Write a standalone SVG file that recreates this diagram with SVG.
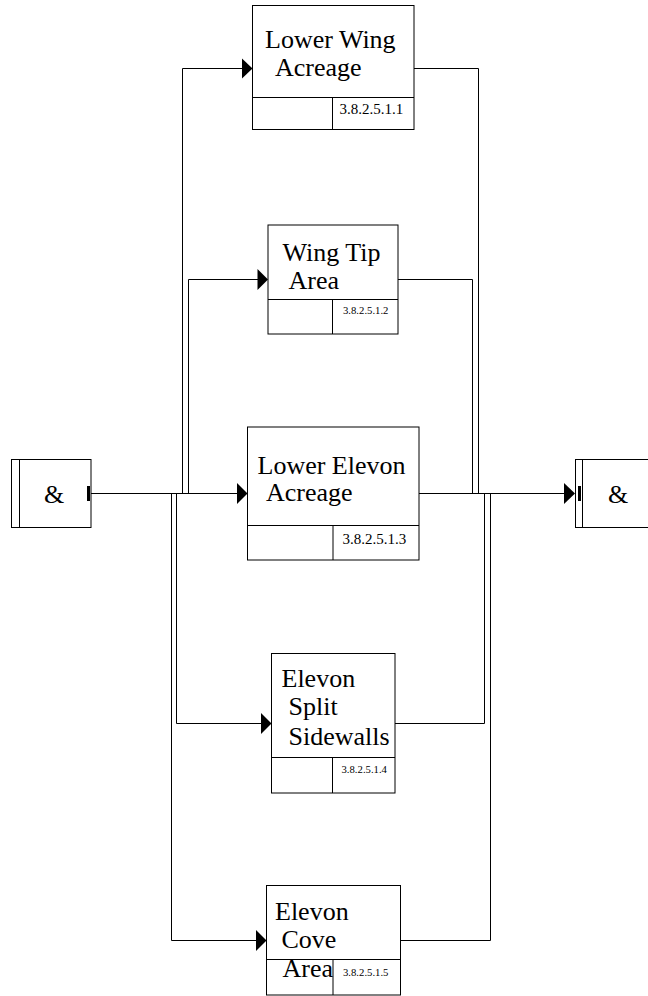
<svg xmlns="http://www.w3.org/2000/svg" width="648" height="996" viewBox="0 0 648 996">
<style>
.box{fill:#fff;stroke:#000;stroke-width:1}
.ln{fill:none;stroke:#000;stroke-width:1}
.t{font-family:"Liberation Serif","Times New Roman",serif;font-size:26px;fill:#000}
.n{font-family:"Liberation Serif","Times New Roman",serif;font-size:15px;fill:#000}
.s{font-family:"Liberation Serif","Times New Roman",serif;font-size:10.7px;fill:#000}
.ah{fill:#000;stroke:none}
</style>
<rect width="648" height="996" fill="#fff"/>
<g id="connectors">
<!-- main line -->
<path class="ln" d="M91 493.5H238"/>
<path class="ln" d="M419 493.5H565"/>
<!-- left branches -->
<path class="ln" d="M182.5 493.5V68.5H243"/>
<path class="ln" d="M188.5 493.5V279.5H258"/>
<path class="ln" d="M176.5 493.5V723.5H262"/>
<path class="ln" d="M171.5 493.5V940.5H257"/>
<!-- right branches -->
<path class="ln" d="M414 68.5H478.5V493.5"/>
<path class="ln" d="M398 279.5H472.5V493.5"/>
<path class="ln" d="M395 723.5H484.5V493.5"/>
<path class="ln" d="M400.5 940.5H490.5V493.5"/>
<!-- arrowheads -->
<polygon class="ah" points="242,58.5 252.5,68.5 242,78.5"/>
<polygon class="ah" points="257.5,269 268,279.5 257.5,290"/>
<polygon class="ah" points="237,483 247.5,493.5 237,504"/>
<polygon class="ah" points="261,713 271.5,723.5 261,734"/>
<polygon class="ah" points="256,930 266.5,940.5 256,951"/>
<polygon class="ah" points="564,483 575,493.5 564,504"/>
</g>
<g id="and-left">
<rect class="box" x="11.5" y="459.5" width="79.5" height="68"/>
<path class="ln" d="M19.5 459.5V527.5"/>
<rect x="87" y="486" width="3" height="15" fill="#000"/>
<text class="t" x="44" y="503">&amp;</text>
</g>
<g id="and-right">
<rect class="box" x="575.5" y="459.5" width="80" height="68"/>
<path class="ln" d="M582.5 459.5V527.5"/>
<rect x="578" y="486" width="3" height="15" fill="#000"/>
<text class="t" x="608" y="503">&amp;</text>
</g>
<g id="n1">
<rect class="box" x="252.5" y="5.5" width="161.5" height="124"/>
<path class="ln" d="M252.5 97.5H414M332.5 97.5V129.5"/>
<text class="t" x="265" y="47.5">Lower Wing</text>
<text class="t" x="275" y="76">Acreage</text>
<text class="n" x="339.5" y="113.5">3.8.2.5.1.1</text>
</g>
<g id="n2">
<rect class="box" x="268" y="225" width="130" height="109"/>
<path class="ln" d="M268 299.5H398M332.5 299.5V334"/>
<text class="t" x="282.5" y="260.5">Wing Tip</text>
<text class="t" x="288.5" y="288.5">Area</text>
<text class="s" x="343" y="314">3.8.2.5.1.2</text>
</g>
<g id="n3">
<rect class="box" x="247.5" y="427" width="171.5" height="133"/>
<path class="ln" d="M247.5 525.5H419M333 525.5V560"/>
<text class="t" x="257.5" y="473.5">Lower Elevon</text>
<text class="t" x="266" y="501">Acreage</text>
<text class="n" x="342.5" y="543.5">3.8.2.5.1.3</text>
</g>
<g id="n4">
<rect class="box" x="271.5" y="653.5" width="123.5" height="139.5"/>
<path class="ln" d="M271.5 757.5H395M332.5 757.5V793"/>
<text class="t" x="281.5" y="686.5">Elevon</text>
<text class="t" x="288.5" y="715">Split</text>
<text class="t" x="288.5" y="744.5">Sidewalls</text>
<text class="s" x="341.5" y="772.5">3.8.2.5.1.4</text>
</g>
<g id="n5">
<rect class="box" x="266.5" y="885.5" width="134" height="109.5"/>
<path class="ln" d="M266.5 959.5H400.5M333 959.5V995"/>
<text class="t" x="275" y="920">Elevon</text>
<text class="t" x="281.5" y="947.5">Cove</text>
<text class="t" x="282.5" y="976.5">Area</text>
<text class="s" x="343" y="975.5">3.8.2.5.1.5</text>
</g>
</svg>
